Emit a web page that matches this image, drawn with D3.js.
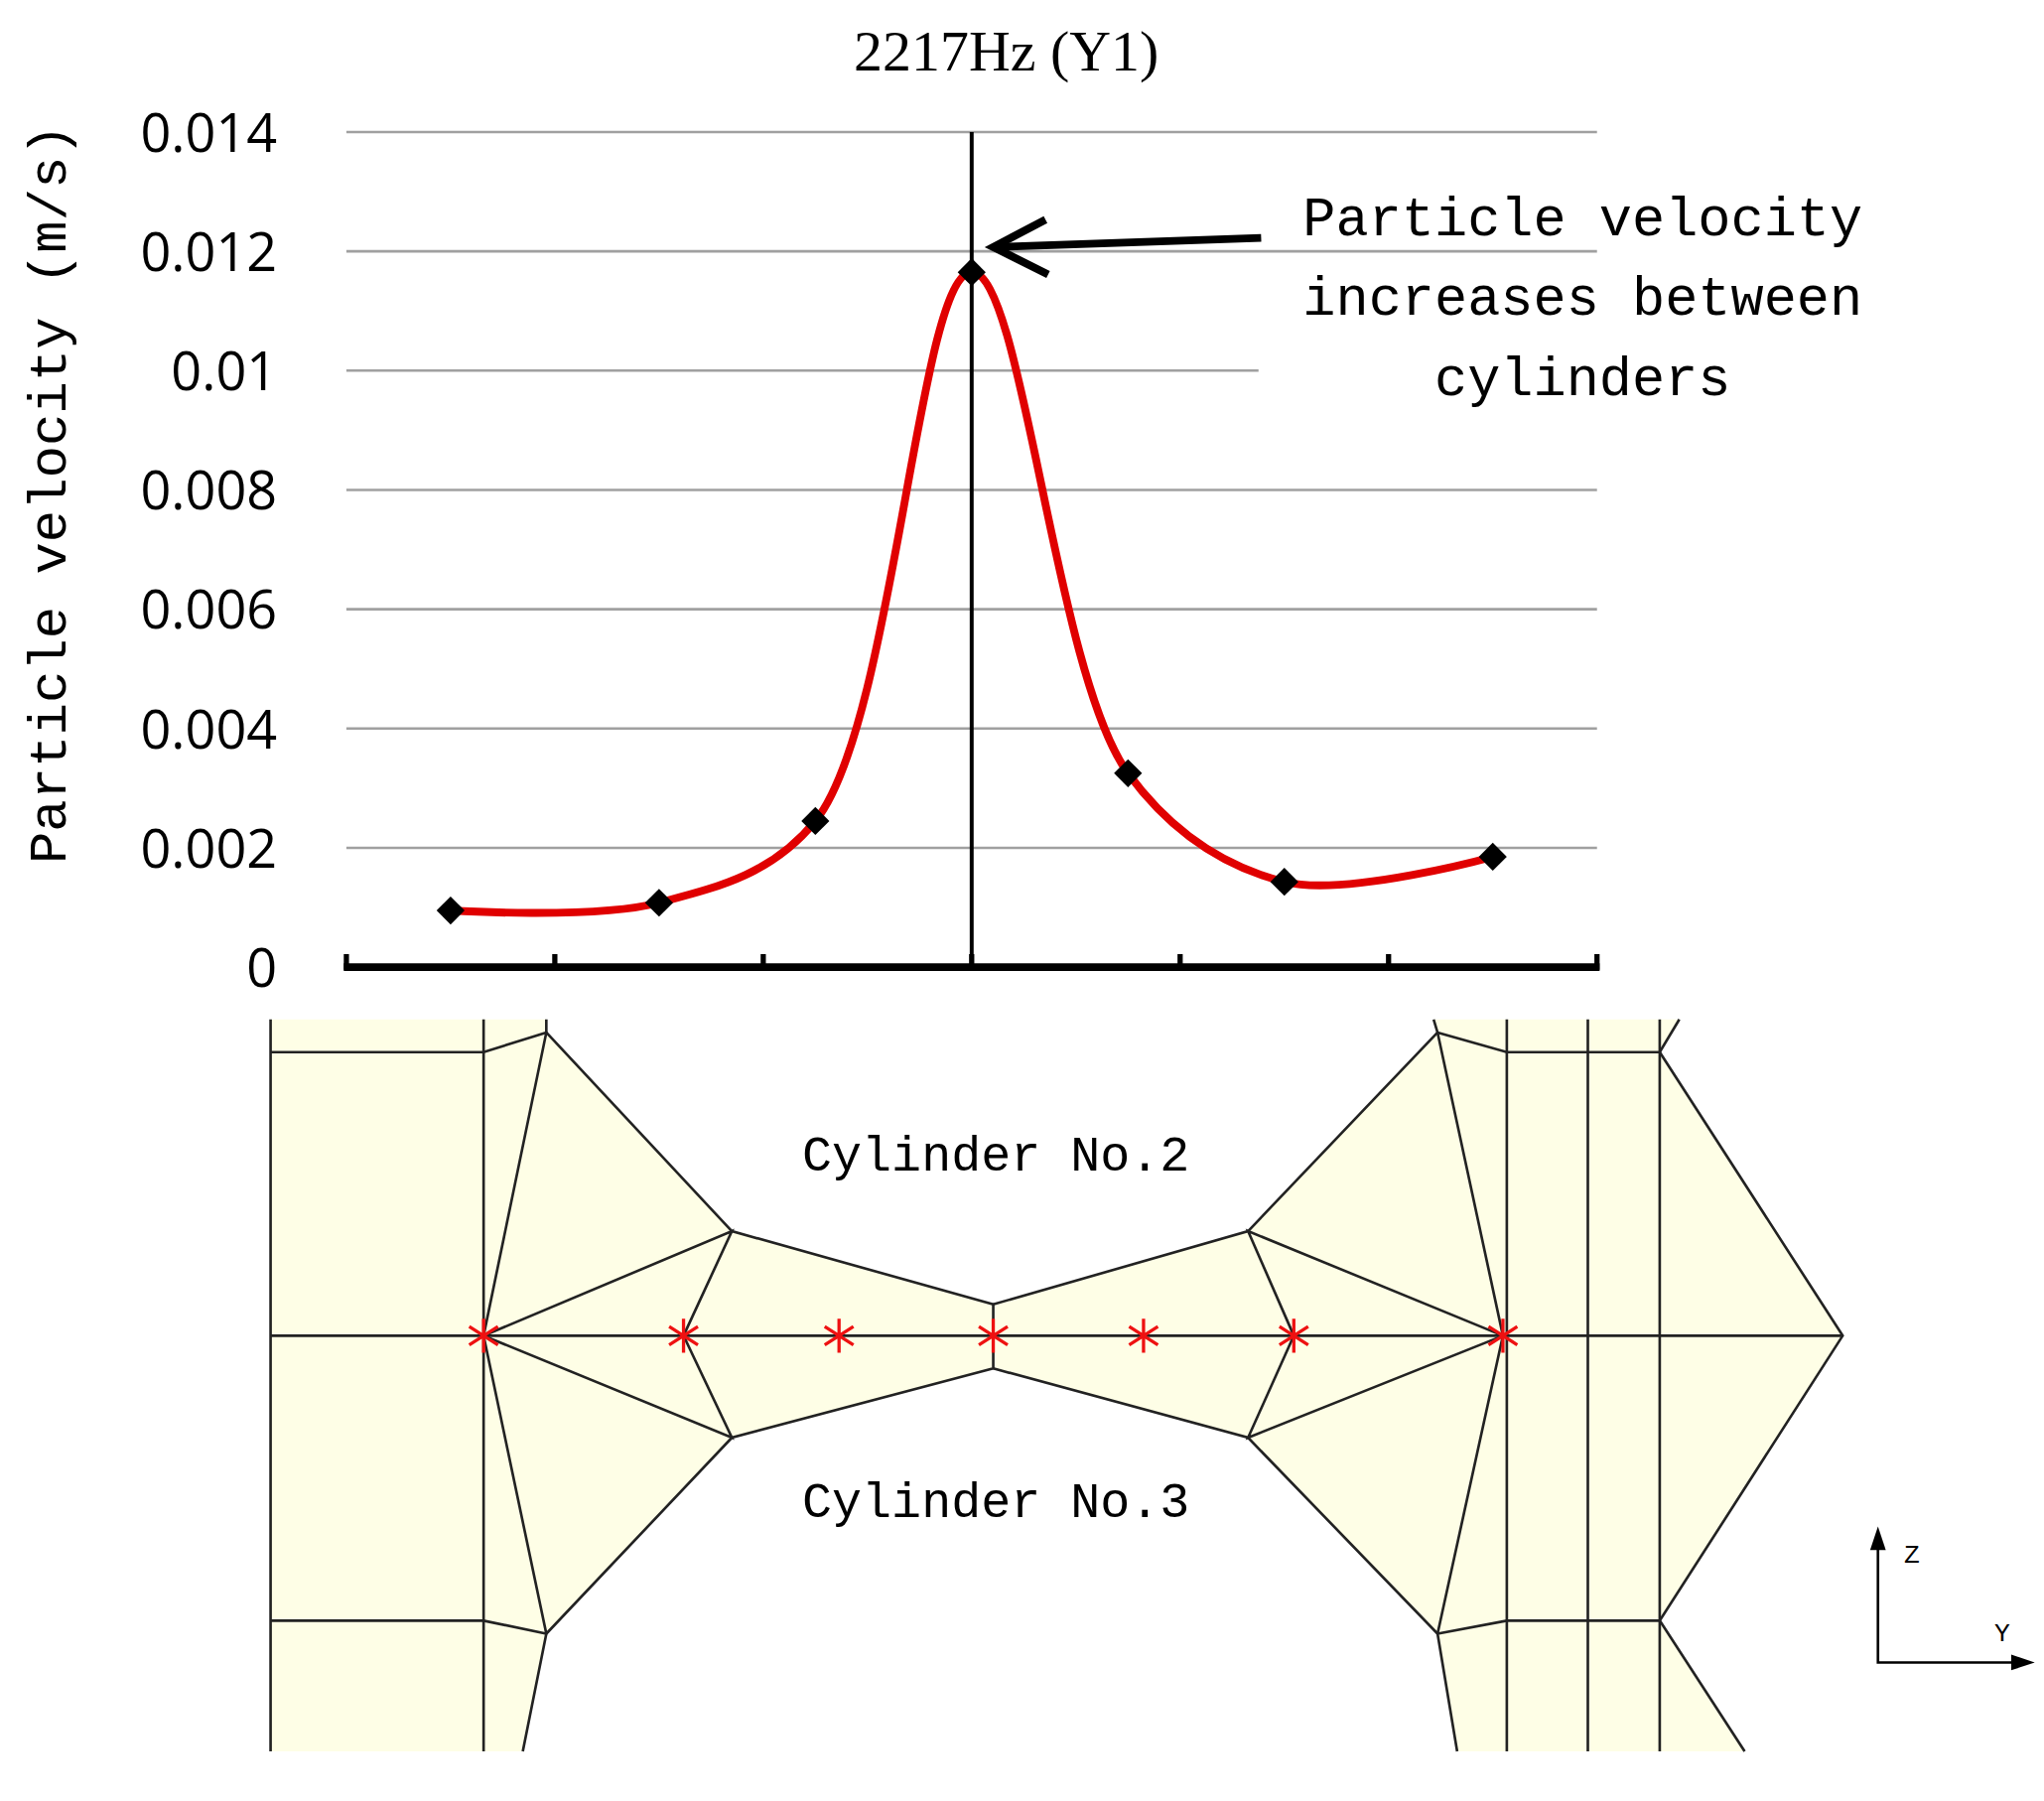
<!DOCTYPE html>
<html><head><meta charset="utf-8">
<script src="https://cdn.jsdelivr.net/npm/d3@7"></script>
<style>body{margin:0;background:#fff}</style>
</head><body>
<svg id="chart" width="2059" height="1814" viewBox="0 0 1564 1378"></svg>
<script>
// measurement positions along Y (in cylinder gap sections) and velocity values
var positions = [0.5, 1.5, 2.25, 3, 3.75, 4.5, 5.5];
var velocities = [0.00095, 0.00108, 0.00245, 0.01165, 0.00325, 0.00143, 0.00185];
var yTicks = [0, 0.002, 0.004, 0.006, 0.008, 0.01, 0.012, 0.014];
var xTicks = [0, 1, 2, 3, 4, 5, 6];
var tickLabels = ["0", "0.002", "0.004", "0.006", "0.008", "0.01", "0.012", "0.014"];

// mesh picture (drawing units)
var meshOutline = [[207,780],[418,780],[418,790],[560,942],[760,998],[955,942],[1100,790],[1097,780],[1285,780],[1270,805],[1410,1022],[1270,1240],[1335,1340],[1115,1340],[1100,1250],[955,1100],[760,1047],[560,1100],[418,1250],[400,1340],[207,1340]];
var meshLines = [
  [[207,780],[207,1340]], [[370,780],[370,1340]], [[1153,780],[1153,1340]], [[1215,780],[1215,1340]], [[1270,805],[1270,1340]],
  [[1270,780],[1270,805]],
  [[207,1022],[1410,1022]],
  [[207,805],[370,805],[418,790]], [[207,1240],[370,1240],[418,1250]],
  [[1100,790],[1153,805],[1270,805],[1285,780]], [[1100,1250],[1153,1240],[1270,1240]],
  [[418,780],[418,790],[370,1022],[418,1250],[400,1340]],
  [[418,790],[560,942],[760,998],[760,1047],[560,1100],[418,1250]],
  [[370,1022],[560,942],[523,1022],[560,1100],[370,1022]],
  [[1097,780],[1100,790],[1150,1022],[1100,1250],[1115,1340]],
  [[1100,790],[955,942],[760,998]], [[760,1047],[955,1100],[1100,1250]],
  [[1150,1022],[955,942],[990,1022],[955,1100],[1150,1022]],
  [[1270,805],[1410,1022],[1270,1240],[1335,1340]]
];
var probeX = [370, 523, 642, 760, 875, 990, 1150];

var svg = d3.select("#chart");
var x = d3.scaleLinear().domain([0, 6]).range([265, 1222]);
var y = d3.scaleLinear().domain([0, 0.014]).range([740, 101]);

// grid
svg.selectAll(".grid").data(yTicks.slice(1)).enter().append("line")
  .attr("x1", 265).attr("x2", function(d) { return d === 0.01 ? 963 : 1222; })
  .attr("y1", y).attr("y2", y)
  .attr("stroke", "#a0a0a0").attr("stroke-width", 2);

svg.selectAll(".ylab").data(yTicks).enter().append("text")
  .attr("x", 212).attr("y", function(d) { return y(d) + 15; })
  .attr("text-anchor", "end").attr("font-family", "Open Sans, sans-serif").attr("font-size", 41)
  .text(function(d, i) { return tickLabels[i]; });

// x axis
svg.append("line").attr("x1", 263).attr("x2", 1224).attr("y1", 740).attr("y2", 740)
  .attr("stroke", "#000").attr("stroke-width", 6);
svg.selectAll(".xt").data(xTicks).enter().append("line")
  .attr("x1", x).attr("x2", x).attr("y1", 730).attr("y2", 742)
  .attr("stroke", "#000").attr("stroke-width", 4);
svg.append("line").attr("x1", x(3)).attr("x2", x(3)).attr("y1", y(0.014)).attr("y2", 740)
  .attr("stroke", "#000").attr("stroke-width", 3);

var pts = positions.map(function(p, i) { return [x(p), y(velocities[i])]; });
svg.append("path").attr("d", d3.line().curve(d3.curveCatmullRom.alpha(0.5))(pts))
  .attr("fill", "none").attr("stroke", "#e00000").attr("stroke-width", 6);
svg.selectAll(".pt").data(pts).enter().append("path")
  .attr("transform", function(d) { return "translate(" + d[0] + "," + d[1] + ") rotate(45)"; })
  .attr("d", d3.symbol(d3.symbolSquare, 230)).attr("fill", "#000");

// titles
svg.append("text").attr("x", 770).attr("y", 54).attr("text-anchor", "middle")
  .attr("font-family", "Liberation Serif, serif").attr("font-size", 44).text("2217Hz (Y1)");
svg.append("text").attr("transform", "translate(50,378) rotate(-90)").attr("text-anchor", "middle")
  .attr("font-family", "Liberation Mono, monospace").attr("font-size", 41).text("Particle velocity (m/s)");

// annotation arrow
svg.append("line").attr("x1", 965).attr("y1", 182).attr("x2", 762).attr("y2", 189)
  .attr("stroke", "#000").attr("stroke-width", 6);
svg.append("path").attr("d", "M800,168L760,189L802,210")
  .attr("fill", "none").attr("stroke", "#000").attr("stroke-width", 6).attr("stroke-linejoin", "miter");
svg.selectAll(".ann").data(["Particle velocity", "increases between", "cylinders"]).enter().append("text")
  .attr("x", 1211).attr("y", function(d, i) { return 180 + i * 61; }).attr("text-anchor", "middle")
  .attr("font-family", "Liberation Mono, monospace").attr("font-size", 42).text(function(d) { return d; });

// mesh
svg.append("path").attr("d", d3.line()(meshOutline) + "Z").attr("fill", "#fefee6").attr("stroke", "none");
svg.selectAll(".mesh").data(meshLines).enter().append("path")
  .attr("d", function(d) { return d3.line()(d); })
  .attr("fill", "none").attr("stroke", "#222").attr("stroke-width", 2);
svg.selectAll(".probe").data(probeX).enter().append("path")
  .attr("transform", function(d) { return "translate(" + d + ",1022)"; })
  .attr("d", "M0,-13V13M-11,-7L11,7M-11,7L11,-7")
  .attr("stroke", "#ee1111").attr("stroke-width", 2.5).attr("fill", "none");
svg.selectAll(".cyl").data([["Cylinder No.2", 896], ["Cylinder No.3", 1161]]).enter().append("text")
  .attr("x", 762).attr("y", function(d) { return d[1]; }).attr("text-anchor", "middle")
  .attr("font-family", "Liberation Mono, monospace").attr("font-size", 38).text(function(d) { return d[0]; });

// axes icon
svg.append("path").attr("d", "M1437,1182V1272H1540").attr("fill", "none").attr("stroke", "#000").attr("stroke-width", 2);
svg.append("path").attr("d", "M1437,1168L1431,1186H1443Z").attr("fill", "#000");
svg.append("path").attr("d", "M1557,1272L1539,1266V1278Z").attr("fill", "#000");
svg.append("text").attr("x", 1463).attr("y", 1196).attr("font-family", "Liberation Mono, monospace").attr("font-size", 20).attr("text-anchor", "middle").text("Z");
svg.append("text").attr("x", 1532).attr("y", 1256).attr("font-family", "Liberation Mono, monospace").attr("font-size", 20).attr("text-anchor", "middle").text("Y");
</script>
</body></html>
